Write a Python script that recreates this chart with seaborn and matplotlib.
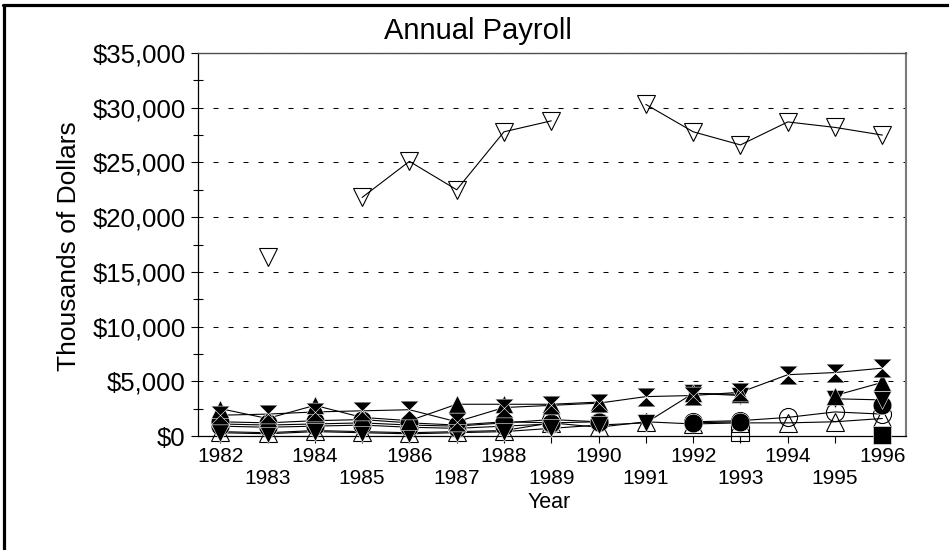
import matplotlib.pyplot as plt
import numpy as np
import pandas as pd
import seaborn as sns
from matplotlib.lines import Line2D
from matplotlib.path import Path
from matplotlib.ticker import MultipleLocator, StrMethodFormatter

sns.set_theme(
    style="ticks",
    rc={
        "axes.edgecolor": "black",
        "text.color": "black",
        "axes.labelcolor": "black",
        "xtick.color": "black",
        "ytick.color": "black",
    },
)
plt.rcParams["font.family"] = ["Liberation Sans", "DejaVu Sans"]

nan = np.nan
YEARS = list(range(1982, 1997))

# Annual payroll, thousands of dollars (one list per plotted series)
OPEN_DOWN_TRI = [nan, 16400, nan, 21800, 25100, 22500, 27800, 28800, nan, 30300, 27800, 26600, 28700, 28200, 27500]
HOURGLASS = [1900, 2000, 2200, 2300, 2400, 1300, 2600, 2800, 3000, 3600, 3700, 4000, 5600, 5800, 6200]
FILLED_UP_TRI = [2500, 1600, 2800, 1700, 1400, 2900, 2900, 2900, 3100, nan, 3900, 3800, nan, 3700, 4900]
FILLED_DOWN_TRI = [300, 200, 400, 300, 200, 300, 400, 700, 1000, 1200, 3900, 3700, nan, 3400, 3300]
FILLED_CIRCLE = [1300, 1200, 1400, 1500, 1200, 1000, 1300, 1200, 1300, nan, 1200, 1300, nan, nan, 2800]
FILLED_CIRCLE_2 = [900, 800, 900, 1000, 800, 700, 900, 1100, nan, nan, nan, nan, nan, nan, nan]
OPEN_CIRCLE = [1100, 1000, 1100, 1200, 1000, 900, 1200, 1500, 1300, nan, 1300, 1400, 1700, 2200, 2000]
OPEN_UP_TRI = [400, 300, 500, 400, 300, 400, 500, 1200, 800, 1300, 1100, 1200, 1200, 1300, 1600]
OPEN_SQUARE = [nan, nan, nan, nan, nan, nan, nan, nan, nan, nan, nan, 400, nan, nan, nan]
FILLED_SQUARE = [nan, nan, nan, nan, nan, nan, nan, nan, nan, nan, nan, nan, nan, nan, 100]

# hourglass marker: two triangles meeting at the centre
HOURGLASS_MARKER = Path(
    [(-1, 1), (1, 1), (0, 0), (-1, 1), (-1, -1), (1, -1), (0, 0), (-1, -1)],
    [Path.MOVETO, Path.LINETO, Path.LINETO, Path.CLOSEPOLY] * 2,
)

# drawn in this order: open markers first, filled on top
SERIES = [
    ("open_square", OPEN_SQUARE, "s", False),
    ("open_up_tri", OPEN_UP_TRI, "^", False),
    ("open_circle", OPEN_CIRCLE, "o", False),
    ("open_down_tri", OPEN_DOWN_TRI, "v", False),
    ("filled_circle_2", FILLED_CIRCLE_2, "o", True),
    ("filled_circle", FILLED_CIRCLE, "o", True),
    ("filled_down_tri", FILLED_DOWN_TRI, "v", True),
    ("filled_up_tri", FILLED_UP_TRI, "^", True),
    ("hourglass", HOURGLASS, HOURGLASS_MARKER, True),
    ("filled_square", FILLED_SQUARE, "s", True),
]


def series_frame(values):
    df = pd.DataFrame({"Year": YEARS, "Payroll": values})
    # break the line wherever a year is missing
    df["Segment"] = df["Payroll"].isna().cumsum()
    return df.dropna()


def main():
    fig = plt.figure(figsize=(9.49, 5.5), dpi=100)
    ax = fig.add_axes([198 / 949, 1 - 436 / 550, 708 / 949, 383 / 550])

    frames = {name: series_frame(values) for name, values, _, _ in SERIES}

    # connecting lines under all markers
    for name, _, _, _ in SERIES:
        sns.lineplot(
            data=frames[name], x="Year", y="Payroll", units="Segment",
            estimator=None, color="black", linewidth=0.8, ax=ax, legend=False,
            zorder=3,
        )
    for name, _, marker, filled in SERIES:
        sns.lineplot(
            data=frames[name], x="Year", y="Payroll", units="Segment",
            estimator=None, linestyle="none", marker=marker,
            markersize=13.5 if filled else 13,
            markerfacecolor="black" if filled else "none",
            markeredgecolor="white" if filled else "black",
            markeredgewidth=0.4 if filled else 0.8, color="black",
            clip_on=False, ax=ax, legend=False, zorder=4,
        )

    ax.set_xlim(1981.53, 1996.5)
    ax.set_ylim(0, 35000)
    ax.set_xticks(YEARS)
    ax.set_xticklabels([str(y) if y % 2 == 0 else "\n" + str(y) for y in YEARS])
    ax.yaxis.set_major_locator(MultipleLocator(5000))
    ax.yaxis.set_minor_locator(MultipleLocator(2500))
    ax.yaxis.set_major_formatter(StrMethodFormatter("${x:,.0f}"))
    ax.set(xlabel="", ylabel="")

    ax.tick_params(axis="x", which="major", direction="out", length=5, width=0.8,
                   labelsize=15, pad=3, bottom=True)
    ax.tick_params(axis="y", which="major", direction="out", length=5, width=0.8,
                   labelsize=18.5, pad=4, left=True)
    ax.tick_params(axis="y", which="minor", direction="inout", length=6.5,
                   width=0.8, left=True)
    ax.grid(axis="y", which="major", color="black", linewidth=0.75,
            linestyle=(0, (4.8, 9.6)))

    ax.spines["left"].set(color="black", linewidth=0.9)
    ax.spines["bottom"].set(color="black", linewidth=0.9)
    ax.spines["top"].set(color="#505050", linewidth=1.0)
    ax.spines["right"].set(color="#7a7a7a", linewidth=1.5)

    fig.text(478 / 949, 1 - 31 / 550, "Annual Payroll", ha="center", va="center",
             fontsize=21)
    fig.text(69 / 949, 1 - 246 / 550, "Thousands of Dollars", rotation=90,
             ha="center", va="center", fontsize=19)
    fig.text(549 / 949, 1 - 503 / 550, "Year", ha="center", va="center",
             fontsize=15.5)

    # heavy frame on the left and top of the picture
    fig.add_artist(Line2D([3.5 / 949, 3.5 / 949], [0, 1 - 4.5 / 550],
                          transform=fig.transFigure, color="black", linewidth=2.3))
    fig.add_artist(Line2D([2.5 / 949, 1], [1 - 4.5 / 550, 1 - 4.5 / 550],
                          transform=fig.transFigure, color="black", linewidth=2.3))

    fig.savefig("out.png", dpi=100, facecolor="white")


if __name__ == "__main__":
    main()
